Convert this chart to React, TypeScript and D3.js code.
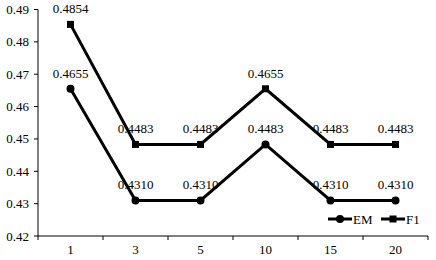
import * as d3 from "d3";
import { useEffect, useRef } from "react";

const categories = ["1", "3", "5", "10", "15", "20"];
const emValues = [0.4655, 0.431, 0.431, 0.4483, 0.431, 0.431];
const f1Values = [0.4854, 0.4483, 0.4483, 0.4655, 0.4483, 0.4483];
const yTicks = [0.42, 0.43, 0.44, 0.45, 0.46, 0.47, 0.48, 0.49];

const width = 436;
const height = 260;
const font = "Liberation Serif";

export default function App() {
  const svgRef = useRef<SVGSVGElement>(null);

  useEffect(() => {
    document.body.style.margin = "0";
    if (!svgRef.current) return;

    const svg = d3.select(svgRef.current);
    svg.selectAll("*").remove();
    svg.attr("font-family", font).attr("font-size", 13);

    const margin = { top: 9.5, right: 8, bottom: 24, left: 38 };

    const x = d3
      .scaleBand<string>()
      .domain(categories)
      .range([margin.left, width - margin.right]);
    const y = d3
      .scaleLinear()
      .domain([0.42, 0.49])
      .range([height - margin.bottom, margin.top]);

    const cx = (c: string) => (x(c) as number) + x.bandwidth() / 2;

    // y axis
    const yAxis = svg.append("g").attr("transform", `translate(${margin.left},0)`);
    yAxis
      .append("line")
      .attr("x1", 0)
      .attr("x2", 0)
      .attr("y1", y(0.49))
      .attr("y2", y(0.42))
      .attr("stroke", "#000")
      .attr("stroke-width", 1);
    yTicks.forEach((t) => {
      yAxis
        .append("line")
        .attr("x1", -4)
        .attr("x2", 0)
        .attr("y1", y(t))
        .attr("y2", y(t))
        .attr("stroke", "#000");
      yAxis
        .append("text")
        .attr("x", -9)
        .attr("y", y(t))
        .attr("dy", "0.35em")
        .attr("text-anchor", "end")
        .text(d3.format(".2f")(t));
    });

    // x axis
    const xAxis = svg.append("g");
    xAxis
      .append("line")
      .attr("x1", margin.left)
      .attr("x2", width - margin.right)
      .attr("y1", y(0.42))
      .attr("y2", y(0.42))
      .attr("stroke", "#000");
    const edges = categories.map((c) => x(c) as number).concat([width - margin.right]);
    edges.forEach((e) => {
      xAxis
        .append("line")
        .attr("x1", e)
        .attr("x2", e)
        .attr("y1", y(0.42))
        .attr("y2", y(0.42) + 4)
        .attr("stroke", "#000");
    });
    categories.forEach((c) => {
      xAxis
        .append("text")
        .attr("x", cx(c))
        .attr("y", y(0.42) + 18)
        .attr("text-anchor", "middle")
        .text(c);
    });

    const line = d3
      .line<number>()
      .x((_, i) => cx(categories[i]))
      .y((d) => y(d));

    const series = [
      { name: "EM", values: emValues, marker: "circle" },
      { name: "F1", values: f1Values, marker: "square" },
    ];

    series.forEach((s) => {
      svg
        .append("path")
        .datum(s.values)
        .attr("d", line)
        .attr("fill", "none")
        .attr("stroke", "#000")
        .attr("stroke-width", 3);

      s.values.forEach((v, i) => {
        const px = cx(categories[i]);
        const py = y(v);
        if (s.marker === "circle") {
          svg.append("circle").attr("cx", px).attr("cy", py).attr("r", 4).attr("fill", "#000");
        } else {
          svg
            .append("rect")
            .attr("x", px - 3.5)
            .attr("y", py - 3.5)
            .attr("width", 7)
            .attr("height", 7)
            .attr("fill", "#000");
        }
        svg
          .append("text")
          .attr("x", px)
          .attr("y", py - 11)
          .attr("text-anchor", "middle")
          .text(v.toFixed(4));
      });
    });

    // legend
    const legend = svg.append("g").attr("transform", `translate(328, 219)`);
    series.forEach((s, i) => {
      const g = legend.append("g").attr("transform", `translate(${i * 53}, 0)`);
      g.append("line")
        .attr("x1", 0)
        .attr("x2", 24)
        .attr("y1", 0)
        .attr("y2", 0)
        .attr("stroke", "#000")
        .attr("stroke-width", 3);
      if (s.marker === "circle") {
        g.append("circle").attr("cx", 12).attr("cy", 0).attr("r", 4).attr("fill", "#000");
      } else {
        g.append("rect").attr("x", 8.5).attr("y", -3.5).attr("width", 7).attr("height", 7).attr("fill", "#000");
      }
      g.append("text")
        .attr("x", 25)
        .attr("y", 0)
        .attr("dy", "0.35em")
        .text(s.name);
    });
  }, []);

  return <svg ref={svgRef} width={width} height={height} style={{ display: "block" }} />;
}
